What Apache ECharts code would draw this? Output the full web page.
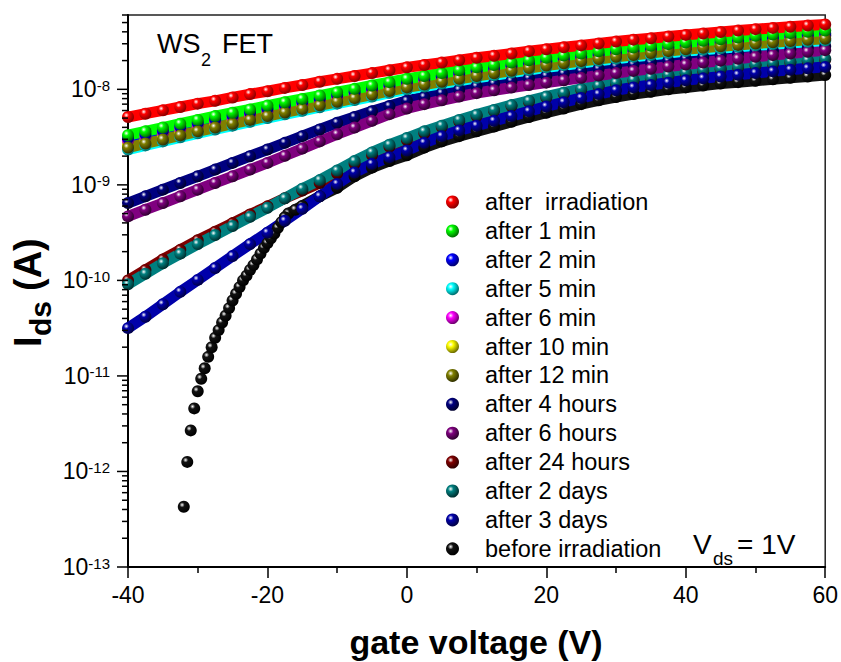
<!DOCTYPE html>
<html><head><meta charset="utf-8">
<script src="https://cdn.jsdelivr.net/npm/echarts@6/dist/echarts.min.js"></script>
<style>html,body{margin:0;padding:0;background:#fff}#c{width:841px;height:662px}</style>
</head><body><div id="c"></div>
<script>
// gate voltage (V)
const gateVoltage = [-40,-37.5,-35,-32.5,-30,-27.5,-25,-22.5,-20,-17.5,-15,-12.5,-10,-7.5,-5,-2.5,0,2.5,5,7.5,10,12.5,15,17.5,20,22.5,25,27.5,30,32.5,35,37.5,40,42.5,45,47.5,50,52.5,55,57.5,60];
const logAfterIrr = [-8.29,-8.255,-8.22,-8.185,-8.15,-8.12,-8.085,-8.05,-8.02,-7.985,-7.955,-7.92,-7.89,-7.86,-7.83,-7.80,-7.77,-7.745,-7.72,-7.695,-7.67,-7.648,-7.625,-7.60,-7.58,-7.56,-7.54,-7.52,-7.50,-7.48,-7.465,-7.447,-7.43,-7.415,-7.40,-7.385,-7.37,-7.357,-7.345,-7.332,-7.32];
const logAfter1min = [-8.48,-8.44,-8.40,-8.36,-8.32,-8.28,-8.245,-8.21,-8.17,-8.135,-8.10,-8.065,-8.03,-7.995,-7.96,-7.925,-7.89,-7.86,-7.83,-7.80,-7.77,-7.745,-7.72,-7.695,-7.67,-7.647,-7.625,-7.602,-7.58,-7.562,-7.545,-7.527,-7.51,-7.492,-7.475,-7.457,-7.44,-7.426,-7.412,-7.398,-7.385];
const logAfter2min = [-8.51,-8.47,-8.43,-8.39,-8.35,-8.31,-8.275,-8.24,-8.20,-8.165,-8.13,-8.095,-8.06,-8.025,-7.99,-7.955,-7.92,-7.89,-7.86,-7.83,-7.80,-7.775,-7.75,-7.725,-7.70,-7.677,-7.655,-7.632,-7.61,-7.592,-7.575,-7.557,-7.54,-7.522,-7.505,-7.487,-7.47,-7.456,-7.442,-7.428,-7.415];
const logAfter5min = [-8.63,-8.587,-8.545,-8.502,-8.46,-8.42,-8.38,-8.34,-8.30,-8.262,-8.225,-8.187,-8.15,-8.112,-8.075,-8.037,-8.00,-7.97,-7.94,-7.91,-7.88,-7.852,-7.825,-7.797,-7.77,-7.747,-7.725,-7.702,-7.68,-7.66,-7.64,-7.62,-7.60,-7.585,-7.57,-7.555,-7.54,-7.527,-7.515,-7.502,-7.49];
const logAfter6min = [-8.535,-8.495,-8.455,-8.415,-8.375,-8.335,-8.30,-8.265,-8.225,-8.19,-8.155,-8.12,-8.085,-8.05,-8.015,-7.98,-7.945,-7.915,-7.885,-7.855,-7.825,-7.80,-7.775,-7.75,-7.725,-7.702,-7.68,-7.657,-7.635,-7.617,-7.60,-7.582,-7.565,-7.547,-7.53,-7.512,-7.495,-7.481,-7.467,-7.453,-7.44];
const logAfter10min = [-8.575,-8.532,-8.49,-8.447,-8.405,-8.365,-8.325,-8.285,-8.245,-8.207,-8.17,-8.132,-8.095,-8.057,-8.02,-7.982,-7.945,-7.915,-7.885,-7.855,-7.825,-7.797,-7.77,-7.742,-7.715,-7.692,-7.67,-7.647,-7.625,-7.605,-7.585,-7.565,-7.545,-7.53,-7.515,-7.50,-7.485,-7.472,-7.46,-7.447,-7.435];
const logAfter12min = [-8.61,-8.567,-8.525,-8.482,-8.44,-8.40,-8.36,-8.32,-8.28,-8.242,-8.205,-8.167,-8.13,-8.092,-8.055,-8.017,-7.98,-7.95,-7.92,-7.89,-7.86,-7.832,-7.805,-7.777,-7.75,-7.727,-7.705,-7.682,-7.66,-7.64,-7.62,-7.60,-7.58,-7.565,-7.55,-7.535,-7.52,-7.507,-7.495,-7.482,-7.47];
const logAfter4h = [-9.19,-9.12,-9.05,-8.98,-8.91,-8.84,-8.77,-8.70,-8.63,-8.56,-8.49,-8.42,-8.35,-8.29,-8.23,-8.175,-8.12,-8.08,-8.04,-8.005,-7.97,-7.94,-7.912,-7.885,-7.86,-7.835,-7.81,-7.785,-7.76,-7.74,-7.72,-7.70,-7.68,-7.662,-7.645,-7.627,-7.61,-7.595,-7.58,-7.565,-7.55];
const logAfter6h = [-9.33,-9.26,-9.19,-9.12,-9.05,-8.98,-8.91,-8.84,-8.77,-8.695,-8.62,-8.545,-8.47,-8.40,-8.33,-8.26,-8.20,-8.155,-8.115,-8.075,-8.04,-8.01,-7.982,-7.955,-7.93,-7.905,-7.88,-7.855,-7.83,-7.807,-7.785,-7.762,-7.74,-7.72,-7.70,-7.68,-7.66,-7.642,-7.625,-7.607,-7.59];
const logAfter24h = [-10.00,-9.89,-9.78,-9.68,-9.58,-9.49,-9.40,-9.31,-9.225,-9.14,-9.06,-8.98,-8.88,-8.78,-8.69,-8.60,-8.53,-8.46,-8.395,-8.335,-8.28,-8.225,-8.175,-8.13,-8.085,-8.045,-8.005,-7.97,-7.94,-7.91,-7.885,-7.86,-7.835,-7.81,-7.79,-7.77,-7.75,-7.735,-7.72,-7.705,-7.69];
const logAfter2d = [-10.04,-9.93,-9.82,-9.72,-9.62,-9.525,-9.43,-9.335,-9.24,-9.14,-9.04,-8.95,-8.85,-8.75,-8.66,-8.58,-8.51,-8.44,-8.38,-8.32,-8.265,-8.215,-8.165,-8.12,-8.075,-8.035,-7.995,-7.96,-7.93,-7.90,-7.875,-7.85,-7.825,-7.80,-7.78,-7.76,-7.74,-7.725,-7.71,-7.695,-7.68];
const logAfter3d = [-10.50,-10.38,-10.25,-10.12,-9.995,-9.87,-9.745,-9.62,-9.50,-9.375,-9.25,-9.12,-8.99,-8.87,-8.78,-8.71,-8.64,-8.56,-8.49,-8.43,-8.38,-8.33,-8.28,-8.23,-8.18,-8.135,-8.09,-8.05,-8.01,-7.98,-7.955,-7.93,-7.905,-7.885,-7.865,-7.848,-7.83,-7.812,-7.795,-7.78,-7.765];
// before irradiation: its own gate-voltage points
const gateVoltageBefore = [-32,-31.5,-31,-30.5,-30,-29.5,-29,-28.5,-28,-27.5,-27,-26.5,-26,-25.5,-25,-24.5,-24,-23.5,-23,-22.5,-22,-21.5,-21,-20.5,-20,-19.5,-19,-18.5,-18,-17.5,-17,-16,-15,-12.5,-10,-7.5,-5,-2.5,0,2.5,5,7.5,10,12.5,15,17.5,20,22.5,25,27.5,30,32.5,35,37.5,40,42.5,45,47.5,50,52.5,55,57.5,60];
const logBefore = [-12.37,-11.90,-11.57,-11.34,-11.16,-11.03,-10.92,-10.80,-10.70,-10.60,-10.52,-10.44,-10.37,-10.29,-10.21,-10.14,-10.07,-10.00,-9.95,-9.89,-9.84,-9.78,-9.72,-9.66,-9.61,-9.56,-9.51,-9.45,-9.39,-9.34,-9.30,-9.26,-9.22,-9.12,-9.03,-8.91,-8.82,-8.75,-8.69,-8.61,-8.545,-8.49,-8.44,-8.39,-8.34,-8.29,-8.245,-8.20,-8.155,-8.115,-8.08,-8.05,-8.025,-8.00,-7.98,-7.96,-7.94,-7.925,-7.91,-7.895,-7.88,-7.865,-7.85];

const seriesNames = ['after  irradiation','after 1 min','after 2 min','after 5 min','after 6 min','after 10 min','after 12 min','after 4 hours','after 6 hours','after 24 hours','after 2 days','after 3 days','before irradiation'];
const xTickValues = [-40,-20,0,20,40,60];
const yDecadeExponents = [-13,-12,-11,-10,-9,-8];
const yMinorMantissas = [2,3,4,5,6,7,8,9];

const Y_MIN = 1e-13, Y_MAX = 6.0e-8;
const FONT = '"Liberation Sans", Arial, Helvetica, sans-serif';

function sphere(c, d){
  return {type:'radial', x:0.36, y:0.34, r:0.66, colorStops:[
    {offset:0, color:'#ffffff'}, {offset:0.32, color:c}, {offset:1, color:d}]};
}
const styles = {
  'after  irradiation':['#ff0000','#8a0000'],
  'after 1 min':['#00ff00','#007000'],
  'after 2 min':['#0000ff','#000070'],
  'after 5 min':['#00ffff','#007070'],
  'after 6 min':['#ff00ff','#700070'],
  'after 10 min':['#ffff00','#707000'],
  'after 12 min':['#808000','#333300'],
  'after 4 hours':['#000080','#000030'],
  'after 6 hours':['#800080','#300030'],
  'after 24 hours':['#800000','#300000'],
  'after 2 days':['#008080','#003030'],
  'after 3 days':['#0000aa','#000045'],
  'before irradiation':['#111111','#000000']
};
const logData = {
  'after  irradiation':logAfterIrr, 'after 1 min':logAfter1min, 'after 2 min':logAfter2min,
  'after 5 min':logAfter5min, 'after 6 min':logAfter6min, 'after 10 min':logAfter10min,
  'after 12 min':logAfter12min, 'after 4 hours':logAfter4h, 'after 6 hours':logAfter6h,
  'after 24 hours':logAfter24h, 'after 2 days':logAfter2d, 'after 3 days':logAfter3d
};
function toPairs(xs, logs){ return xs.map((v,i)=>[v, Math.pow(10, logs[i])]); }

function bandSeries(name, pairs, withLine){
  const [c,d] = styles[name];
  return {
    type:'line', name:name, data:pairs, symbol:'circle', symbolSize:12,
    showSymbol:true, showAllSymbol:true, silent:true, animation:false,
    lineStyle:{color:c, width: withLine ? 11 : 0, opacity: withLine ? 1 : 0},
    itemStyle:{color:sphere(c,d), borderWidth:0},
    emphasis:{disabled:true}
  };
}

const series = [];
// before irradiation: sparse spheres + dense band part (drawn first, underneath)
const beforePairs = toPairs(gateVoltageBefore, logBefore);
series.push(bandSeries('before irradiation', beforePairs.filter(p=>p[0] >= -17.5), true));
series.push(bandSeries('before irradiation', beforePairs.filter(p=>p[0] <= -17.5), false));
const drawOrder = ['after 24 hours','after 2 days','after 3 days','after 4 hours','after 6 hours',
  'after 5 min','after 10 min','after 6 min','after 2 min','after 12 min','after 1 min','after  irradiation'];
drawOrder.forEach(n=>series.push(bandSeries(n, toPairs(gateVoltage, logData[n]), true)));

// log-axis ticks (major decades + minor 2..9)
const tickData = [];
yDecadeExponents.forEach(e=>{
  tickData.push([-40, Math.pow(10,e), 11]);
  yMinorMantissas.forEach(m=>{ const v = m*Math.pow(10,e); if (v <= Y_MAX*1.001) tickData.push([-40, v, 6]); });
});
series.push({
  type:'custom', silent:true, clip:false, animation:false, z:5,
  data:tickData,
  renderItem:function(params, api){
    const p = api.coord([api.value(0), api.value(1)]);
    const len = api.value(2);
    return {type:'line', shape:{x1:p[0]-len, y1:p[1], x2:p[0], y2:p[1]}, style:{stroke:'#000', lineWidth:1.5}};
  }
});

const chart = echarts.init(document.getElementById('c'), null, {renderer:'svg'});
chart.setOption({
  animation:false,
  backgroundColor:'#fff',
  grid:{left:128, right:14, top:15, bottom:95, show:true, borderColor:'#222', borderWidth:1.5, backgroundColor:'transparent'},
  xAxis:{
    type:'value', min:-40, max:60, interval:20,
    axisLine:{onZero:false, lineStyle:{color:'#000', width:2}},
    axisTick:{length:11, lineStyle:{color:'#000', width:1.5}},
    minorTick:{show:true, splitNumber:2, length:6, lineStyle:{color:'#000', width:1.5}},
    splitLine:{show:false},
    axisLabel:{color:'#000', fontSize:23, fontFamily:FONT, margin:16,
      formatter:function(v){ return xTickValues.indexOf(v) >= 0 ? String(v) : ''; }}
  },
  yAxis:{
    type:'log', logBase:10, min:Y_MIN, max:Y_MAX,
    axisLine:{onZero:false, lineStyle:{color:'#000', width:2}},
    axisTick:{show:false}, splitLine:{show:false}, minorTick:{show:false},
    axisLabel:{margin:18, color:'#000', fontFamily:FONT,
      formatter:function(v){
        const e = Math.log10(v); const r = Math.round(e);
        if (Math.abs(e-r) > 1e-6 || yDecadeExponents.indexOf(r) < 0) return '';
        return '{b|10}{s|' + r + '}';
      },
      rich:{ b:{fontSize:23, fontFamily:FONT, color:'#000', lineHeight:23},
             s:{fontSize:15, fontFamily:FONT, color:'#000', lineHeight:14, verticalAlign:'top'} }
    }
  },
  legend:{
    data:seriesNames, orient:'vertical', left:446, top:190, padding:0,
    icon:'circle', itemWidth:13, itemHeight:13, itemGap:4.9, selectedMode:false,
    textStyle:{fontSize:23.5, fontFamily:FONT, color:'#000', lineHeight:23, padding:[0,0,0,21]}
  },
  graphic:[
    {type:'text', x:157, y:44, silent:true, style:{text:'WS', font:'27px '+FONT, fill:'#000', align:'left', verticalAlign:'middle'}},
    {type:'text', x:201, y:60, silent:true, style:{text:'2', font:'18px '+FONT, fill:'#000', align:'left', verticalAlign:'middle'}},
    {type:'text', x:222, y:44, silent:true, style:{text:'FET', font:'27px '+FONT, fill:'#000', align:'left', verticalAlign:'middle'}},
    {type:'text', x:693, y:544, silent:true, style:{text:'V', font:'28px '+FONT, fill:'#000', align:'left', verticalAlign:'middle'}},
    {type:'text', x:713, y:558, silent:true, style:{text:'ds', font:'19px '+FONT, fill:'#000', align:'left', verticalAlign:'middle'}},
    {type:'text', x:737, y:544, silent:true, style:{text:'= 1V', font:'28px '+FONT, fill:'#000', align:'left', verticalAlign:'middle'}},
    {type:'text', x:476, y:642, silent:true, style:{text:'gate voltage (V)', font:'bold 34px '+FONT, fill:'#000', align:'center', verticalAlign:'middle'}},
    {type:'text', x:28, y:347, rotation:Math.PI/2, silent:true, style:{text:'I', font:'bold 38px '+FONT, fill:'#000', align:'left', verticalAlign:'middle'}},
    {type:'text', x:40, y:336, rotation:Math.PI/2, silent:true, style:{text:'ds', font:'bold 30px '+FONT, fill:'#000', align:'left', verticalAlign:'middle'}},
    {type:'text', x:28, y:291, rotation:Math.PI/2, silent:true, style:{text:'(A)', font:'bold 38px '+FONT, fill:'#000', align:'left', verticalAlign:'middle'}}
  ],
  series:series
});
</script></body></html>
